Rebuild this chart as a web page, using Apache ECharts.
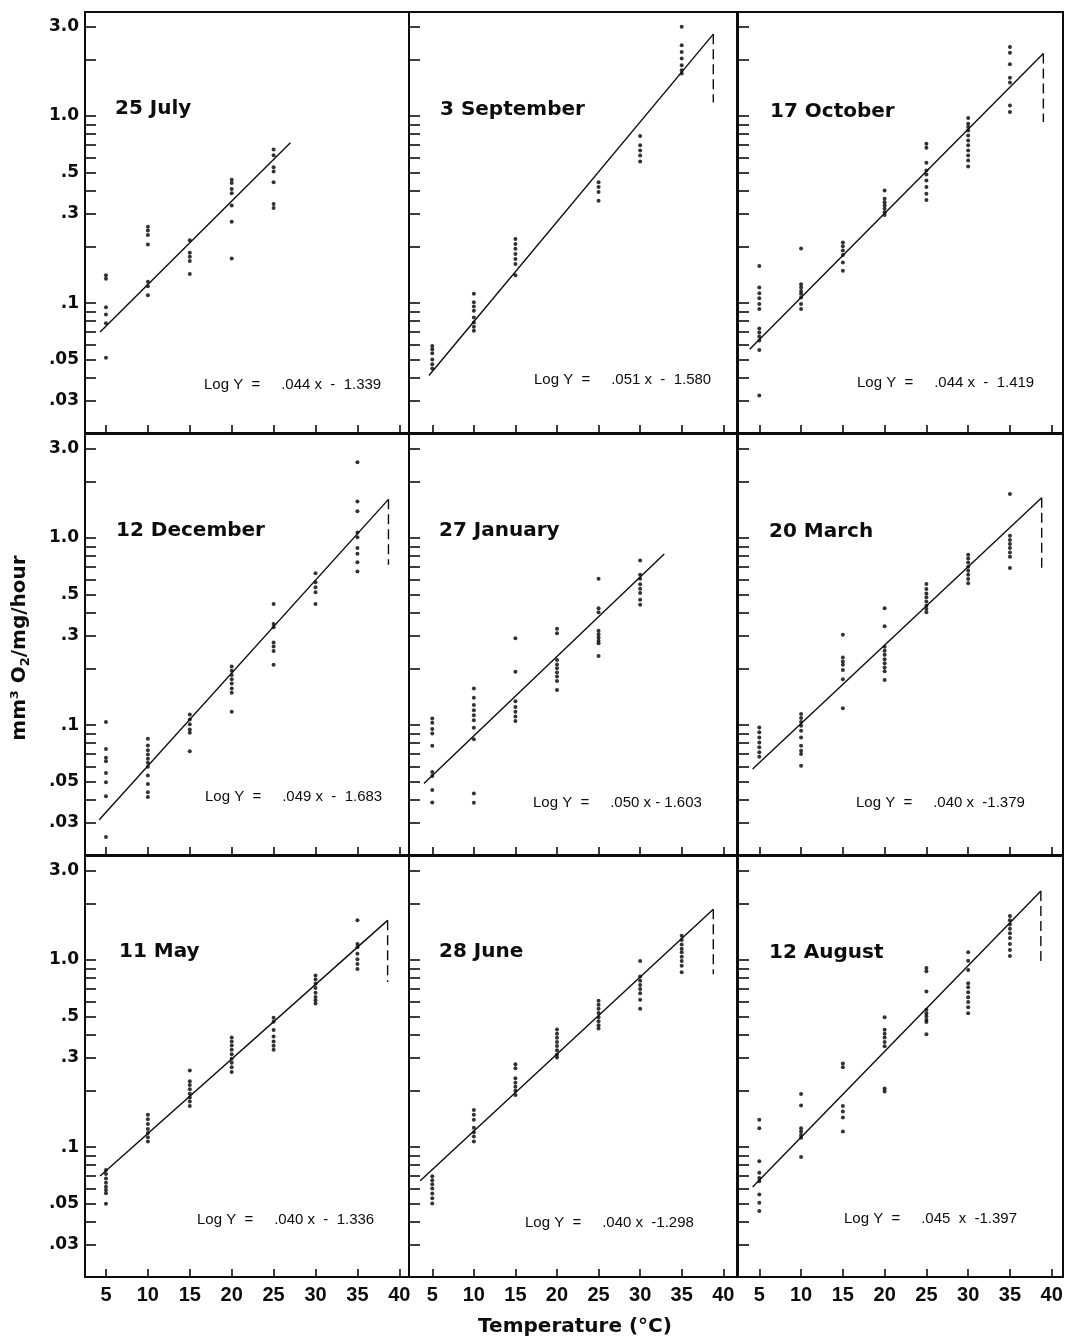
<!DOCTYPE html>
<html><head><meta charset="utf-8">
<script src="https://cdn.jsdelivr.net/npm/echarts@6/dist/echarts.min.js"></script>
<style>html,body{margin:0;padding:0;background:#fff}#c{width:1067px;height:1340px}</style>
</head><body><div id="c"></div><script>
// ---------- data ----------
const temperatures = [5, 10, 15, 20, 25, 30, 35];
const panelNames = ['25 July', '3 September', '17 October', '12 December', '27 January', '20 March', '11 May', '28 June', '12 August'];
const equations = [
  'Log Y  =     .044 x  -  1.339', 'Log Y  =     .051 x  -  1.580', 'Log Y  =     .044 x  -  1.419',
  'Log Y  =     .049 x  -  1.683', 'Log Y  =     .050 x - 1.603', 'Log Y  =     .040 x  -1.379',
  'Log Y  =     .040 x  -  1.336', 'Log Y  =     .040 x  -1.298', 'Log Y  =     .045  x  -1.397'
];
// one inner list per temperature (5..35)
const jul25 = [[0.141, 0.135, 0.095, 0.087, 0.078, 0.051], [0.256, 0.244, 0.231, 0.206, 0.130, 0.123, 0.110], [0.217, 0.186, 0.177, 0.168, 0.143], [0.456, 0.438, 0.407, 0.387, 0.332, 0.272, 0.173], [0.662, 0.617, 0.532, 0.506, 0.442, 0.339, 0.322], [], []];
const sep3 = [[0.059, 0.0567, 0.054, 0.050, 0.0471, 0.0447], [0.112, 0.101, 0.096, 0.091, 0.0838, 0.0788, 0.0747, 0.0711], [0.220, 0.207, 0.195, 0.183, 0.172, 0.162, 0.141], [], [0.443, 0.417, 0.392, 0.353], [0.781, 0.697, 0.655, 0.615, 0.571], [3.0, 2.39, 2.20, 2.03, 1.87, 1.76, 1.69]];
const oct17 = [[0.158, 0.121, 0.113, 0.106, 0.0988, 0.0929, 0.0732, 0.0696, 0.0663, 0.063, 0.0562, 0.0321], [0.196, 0.126, 0.121, 0.116, 0.112, 0.107, 0.0988, 0.0929], [0.211, 0.201, 0.191, 0.181, 0.165, 0.149], [0.400, 0.361, 0.346, 0.332, 0.319, 0.306, 0.296], [0.711, 0.676, 0.562, 0.512, 0.487, 0.452, 0.417, 0.384, 0.356], [0.976, 0.910, 0.873, 0.838, 0.788, 0.741, 0.697, 0.655, 0.615, 0.578, 0.537], [2.34, 2.18, 1.89, 1.60, 1.51, 1.14, 1.05]];
const dec12 = [[0.104, 0.0746, 0.0668, 0.0641, 0.0555, 0.0494, 0.0416, 0.0252], [0.0845, 0.0778, 0.0734, 0.0696, 0.066, 0.0628, 0.0598, 0.0537, 0.0484, 0.0437, 0.0412], [0.114, 0.107, 0.101, 0.0948, 0.091, 0.0725], [0.206, 0.195, 0.185, 0.176, 0.167, 0.157, 0.149, 0.118], [0.444, 0.347, 0.333, 0.276, 0.263, 0.249, 0.210], [0.649, 0.581, 0.546, 0.513, 0.444], [2.54, 1.57, 1.39, 1.07, 1.01, 0.884, 0.824, 0.743, 0.662]];
const jan27 = [[0.1086, 0.1029, 0.0952, 0.0902, 0.0775, 0.0562, 0.0535, 0.0449, 0.0385], [0.157, 0.140, 0.128, 0.120, 0.113, 0.106, 0.0968, 0.0841, 0.0431, 0.0384], [0.291, 0.193, 0.134, 0.125, 0.118, 0.111, 0.105], [0.327, 0.310, 0.223, 0.211, 0.201, 0.191, 0.182, 0.172, 0.154], [0.605, 0.422, 0.401, 0.319, 0.306, 0.294, 0.282, 0.274, 0.234], [0.759, 0.636, 0.605, 0.567, 0.536, 0.508, 0.468, 0.44], []];
const mar20 = [[0.0972, 0.0915, 0.0859, 0.0807, 0.076, 0.0715, 0.0677], [0.1146, 0.109, 0.104, 0.0991, 0.0932, 0.0859, 0.0775, 0.0729, 0.070, 0.0606], [0.304, 0.230, 0.219, 0.210, 0.197, 0.176, 0.123], [0.422, 0.338, 0.262, 0.250, 0.238, 0.225, 0.214, 0.203, 0.194, 0.174], [0.568, 0.534, 0.506, 0.482, 0.458, 0.435, 0.417, 0.401], [0.814, 0.778, 0.741, 0.703, 0.669, 0.637, 0.604, 0.573], [1.72, 1.03, 0.976, 0.929, 0.884, 0.838, 0.795, 0.691]];
const may11 = [[0.0753, 0.0717, 0.068, 0.0645, 0.0614, 0.059, 0.0566, 0.0497], [0.149, 0.141, 0.133, 0.125, 0.119, 0.113, 0.107], [0.257, 0.225, 0.215, 0.204, 0.193, 0.184, 0.175, 0.166], [0.385, 0.367, 0.349, 0.331, 0.314, 0.297, 0.282, 0.267, 0.252], [0.491, 0.468, 0.423, 0.390, 0.367, 0.348, 0.331], [0.826, 0.787, 0.747, 0.708, 0.669, 0.634, 0.609, 0.585], [1.63, 1.22, 1.17, 1.08, 1.01, 0.952, 0.896]];
const jun28 = [[0.0698, 0.0665, 0.0633, 0.0601, 0.0565, 0.0532, 0.050], [0.158, 0.149, 0.140, 0.127, 0.120, 0.114, 0.107], [0.277, 0.264, 0.233, 0.221, 0.210, 0.200, 0.190], [0.425, 0.403, 0.384, 0.365, 0.347, 0.329, 0.313, 0.301], [0.606, 0.577, 0.549, 0.521, 0.494, 0.471, 0.448, 0.430], [0.988, 0.816, 0.774, 0.736, 0.701, 0.665, 0.613, 0.549], [1.35, 1.28, 1.21, 1.15, 1.10, 1.04, 0.988, 0.933, 0.860]];
const aug12 = [[0.140, 0.126, 0.0839, 0.0728, 0.0684, 0.0657, 0.0557, 0.0504, 0.0455], [0.192, 0.167, 0.126, 0.121, 0.116, 0.112, 0.0885], [0.280, 0.267, 0.166, 0.155, 0.144, 0.121], [0.495, 0.424, 0.404, 0.385, 0.365, 0.346, 0.206, 0.198], [0.906, 0.871, 0.679, 0.542, 0.520, 0.500, 0.480, 0.466, 0.401], [1.10, 0.991, 0.885, 0.751, 0.716, 0.673, 0.633, 0.596, 0.560, 0.520], [1.72, 1.63, 1.55, 1.47, 1.39, 1.31, 1.22, 1.13, 1.05]];
// fitted lines and the dashed drop at the end
const fitStartX = [4.3, 4.6, 3.85, 4.2, 4.0, 4.2, 4.3, 3.55, 4.2];
const fitStartY = [0.070, 0.041, 0.0567, 0.0312, 0.0487, 0.0582, 0.070, 0.066, 0.0612];
const fitEndX = [27.0, 38.8, 39.0, 38.7, 32.9, 38.8, 38.6, 38.8, 38.7];
const fitEndY = [0.72, 2.74, 2.16, 1.61, 0.821, 1.64, 1.63, 1.87, 2.34];
const dashEndY = [null, 1.18, 0.93, 0.72, null, 0.683, 0.762, 0.839, 0.972];
// axis ticks
const xTicks = [5, 10, 15, 20, 25, 30, 35, 40];
const yTickValues = [0.03, 0.04, 0.05, 0.06, 0.07, 0.08, 0.09, 0.1, 0.2, 0.3, 0.4, 0.5, 0.6, 0.7, 0.8, 0.9, 1, 2, 3];
const yLabelValues = [0.03, 0.05, 0.1, 0.3, 0.5, 1, 3];
const yLabelTexts = ['.03', '.05', '.1', '.3', '.5', '1.0', '3.0'];

// ---------- layout ----------
const colLeft = [85, 409, 738], colWidth = [324, 328, 325];
const xMin = [2.5, 2.2, 2.45], xMax = [41.15, 41.65, 41.35];
const rowTop = [12, 434, 856], rowHeight = 421;
const yMin = 0.0202, yMax = 3.6;
const titlePos = [[115, 109], [440, 110], [770, 112], [116, 531], [439, 531], [769, 532], [119, 952], [439, 952], [769, 953]];
const eqPos = [[204, 385], [534, 380], [857, 383], [205, 797], [533, 803], [856, 803], [197, 1220], [525, 1223], [844, 1219]];

const panels = [jul25, sep3, oct17, dec12, jan27, mar20, may11, jun28, aug12];
const INK = '#0d0d0d';
function yLabelText(v) {
  for (let k = 0; k < yLabelValues.length; k++) {
    if (Math.abs(v - yLabelValues[k]) < yLabelValues[k] * 1e-4) return yLabelTexts[k];
  }
  return '';
}

const grids = [], xAxes = [], yAxes = [], series = [], graphics = [];
for (let i = 0; i < 9; i++) {
  const r = Math.floor(i / 3), c = i % 3;
  grids.push({ left: colLeft[c], top: rowTop[r], width: colWidth[c], height: rowHeight, show: true,
    borderColor: INK, borderWidth: 2, backgroundColor: 'transparent', outerBoundsMode: 'none' });
  xAxes.push({ gridIndex: i, type: 'value', min: xMin[c], max: xMax[c],
    axisLine: { show: false }, splitLine: { show: false },
    axisTick: { show: true, inside: true, length: 8, customValues: xTicks, lineStyle: { color: INK, width: 1.6 } },
    axisLabel: { show: r === 2, customValues: xTicks, margin: 8, color: INK,
      fontFamily: 'Liberation Sans', fontWeight: 'bold', fontSize: 20 } });
  yAxes.push({ gridIndex: i, type: 'log', logBase: 10, min: yMin, max: yMax,
    axisLine: { show: false }, splitLine: { show: false },
    axisTick: { show: true, inside: true, length: 11, customValues: yTickValues, lineStyle: { color: INK, width: 1.6 } },
    axisLabel: { show: c === 0, customValues: yLabelValues, formatter: yLabelText, margin: 6, color: INK,
      fontFamily: 'DejaVu Sans', fontWeight: 'bold', fontSize: 17 } });
  const pts = [];
  panels[i].forEach((vals, j) => vals.forEach(v => pts.push([temperatures[j], v])));
  series.push({ type: 'scatter', xAxisIndex: i, yAxisIndex: i, data: pts, symbol: 'circle', symbolSize: 4,
    itemStyle: { color: '#000' }, silent: true, animation: false });
  series.push({ type: 'line', xAxisIndex: i, yAxisIndex: i, showSymbol: false, silent: true, animation: false,
    data: [[fitStartX[i], fitStartY[i]], [fitEndX[i], fitEndY[i]]], lineStyle: { color: INK, width: 1.4 } });
  if (dashEndY[i] !== null) {
    series.push({ type: 'line', xAxisIndex: i, yAxisIndex: i, showSymbol: false, silent: true, animation: false,
      data: [[fitEndX[i], fitEndY[i]], [fitEndX[i], dashEndY[i]]], lineStyle: { color: INK, width: 1.4, type: [10, 5] } });
  }
  graphics.push({ type: 'text', x: titlePos[i][0], y: titlePos[i][1],
    style: { text: panelNames[i], font: 'bold 20px "DejaVu Sans"', fill: INK, verticalAlign: 'middle' } });
  graphics.push({ type: 'text', x: eqPos[i][0], y: eqPos[i][1],
    style: { text: equations[i], font: '15px "Liberation Sans"', fill: INK, verticalAlign: 'middle' } });
}
graphics.push({ type: 'text', x: 20, y: 648, rotation: Math.PI / 2,
  style: { text: '{m|mm³ O}{s|2}{m|/mg/hour}', align: 'center', verticalAlign: 'middle',
    rich: { m: { font: 'bold 20px "DejaVu Sans"', fill: INK, lineHeight: 26 },
            s: { font: 'bold 13px "DejaVu Sans"', fill: INK, lineHeight: 26, padding: [12, 0, 0, 0] } } } });
graphics.push({ type: 'text', x: 575, y: 1327,
  style: { text: 'Temperature (°C)', font: 'bold 20px "DejaVu Sans"', fill: INK, align: 'center', verticalAlign: 'middle' } });

const chart = echarts.init(document.getElementById('c'), null, { renderer: 'canvas' });
chart.setOption({ animation: false, backgroundColor: '#fff', grid: grids, xAxis: xAxes, yAxis: yAxes, series: series, graphic: graphics });
</script></body></html>
